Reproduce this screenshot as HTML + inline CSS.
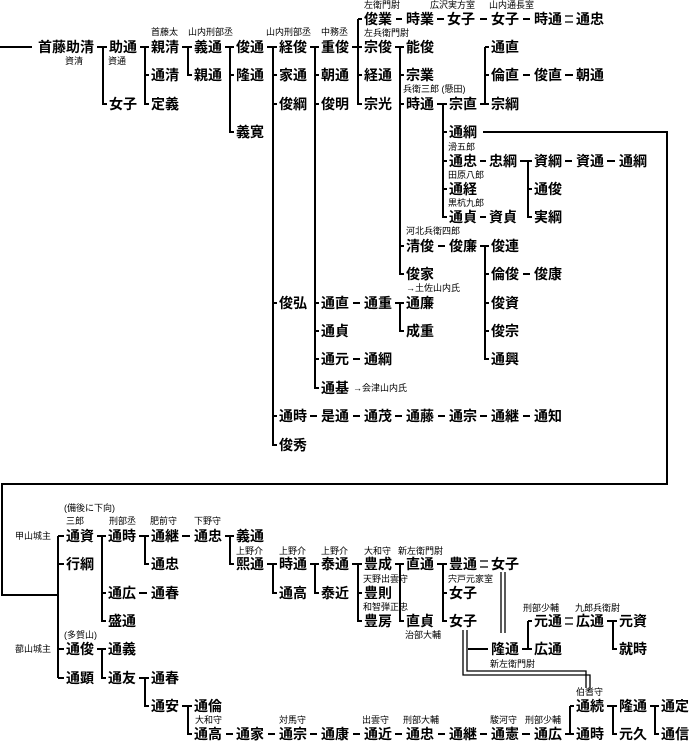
<!DOCTYPE html>
<html><head><meta charset="utf-8"><style>
html,body{margin:0;padding:0;background:#fff;}
svg{display:block;}
text{font-family:"Liberation Sans","Noto Sans CJK JP",sans-serif;fill:#000;}
.n{font-size:14px;dominant-baseline:central;font-weight:bold;}
.s{font-size:9px;dominant-baseline:central;}
</style></head><body>
<svg width="694" height="742" viewBox="0 0 694 742" xmlns="http://www.w3.org/2000/svg">
<g fill="none" stroke="#000" stroke-width="2">
<path d="M0 47H32 M97 47H107 M103 47V104H107"/>
<path d="M140 47H149 M145 47V104H149 M145 75H149"/>
<path d="M182 47H192 M188 47V75H192"/>
<path d="M225 47H234 M230 47V132H234 M230 75H234"/>
<path d="M267 47H277 M273 47V445H277 M273 75H277 M273 104H277 M273 303H277 M273 416H277"/>
<path d="M310 47H319 M315 47V388H319 M315 75H319 M315 104H319 M315 303H319 M315 331H319 M315 359H319"/>
<path d="M352 47H362 M358 19V104H362 M358 19H362 M358 75H362"/>
<path d="M395 47H404 M400 47V274H404 M400 75H404 M400 104H404 M400 246H404"/>
<path d="M437 104H447 M443 104V217H447 M443 132H447 M443 161H447 M443 189H447"/>
<path d="M480 104H489 M485 47V104 M485 47H489 M485 75H489"/>
<path d="M520 161H532 M528 161V217H532 M528 189H532"/>
<path d="M480 246H489 M485 246V359H489 M485 274H489 M485 303H489 M485 331H489"/>
<path d="M395 303H404 M400 303V331H404"/>
<path d="M396 19H402 M437 19H444 M480 19H487 M523 19H530"/>
<path d="M523 75H530 M565 75H573"/>
<path d="M483 132H667V484H2V595H58"/>
<path d="M480 161H486 M565 161H572 M607 161H615 M480 217H486 M438 246H445 M523 274H530 M353 303H360 M353 359H360"/>
<path d="M310 416H317 M353 416H360 M395 416H402 M438 416H445 M480 416H487 M523 416H530"/>
<path d="M58 536V678 M58 536H64 M58 564H64 M58 649H64 M58 678H64"/>
<path d="M97 536H106 M102 536V621H106 M102 593H106"/>
<path d="M139 536H149 M145 536V564H149 M182 536H190"/>
<path d="M225 536H234 M230 536V564H234"/>
<path d="M267 564H277 M273 564V593H277"/>
<path d="M310 564H319 M315 564V593H319"/>
<path d="M352 564H362 M358 564V621H362 M358 593H362"/>
<path d="M395 564H404 M400 564V621H404"/>
<path d="M437 564H447 M443 564V621H447 M443 593H447"/>
<path d="M468 649H488 M522 649H532 M528 621V649 M528 621H532 M607 621H617 M613 621V649H617"/>
<path d="M97 649H106 M102 649V678H106 M139 593H147 M139 678H149 M145 678V706H149 M182 706H192 M188 706V734H192"/>
<path d="M226 734H233 M268 734H275 M310 734H317 M353 734H360 M395 734H402 M438 734H445 M480 734H487 M522 734H530"/>
<path d="M565 734H574 M570 706V734 M570 706H574 M607 706H617 M613 706V734H617 M650 706H659 M655 706V734H659"/>
</g>
<g fill="none" stroke="#000" stroke-width="1.3">
<path d="M565 16H573 M565 22H573 M480 561H488 M480 567H488 M565 618H573 M565 624H573"/>
<path d="M501 572V633 M505 572V633"/>
<path d="M463 630V675H590V688 M467 630V671H586V688"/>
</g>
<g class="n">
<text x="38" y="47">首藤助清</text>
<text x="109" y="47">助通</text><text x="109" y="104">女子</text>
<text x="151" y="47">親清</text><text x="151" y="75">通清</text><text x="151" y="104">定義</text>
<text x="194" y="47">義通</text><text x="194" y="75">親通</text>
<text x="236" y="47">俊通</text><text x="236" y="75">隆通</text><text x="236" y="132">義寛</text>
<text x="279" y="47">経俊</text><text x="279" y="75">家通</text><text x="279" y="104">俊綱</text><text x="279" y="303">俊弘</text><text x="279" y="416">通時</text><text x="279" y="445">俊秀</text>
<text x="321" y="47">重俊</text><text x="321" y="75">朝通</text><text x="321" y="104">俊明</text><text x="321" y="303">通直</text><text x="321" y="331">通貞</text><text x="321" y="359">通元</text><text x="321" y="388">通基</text>
<text x="364" y="19">俊業</text><text x="364" y="47">宗俊</text><text x="364" y="75">経通</text><text x="364" y="104">宗光</text>
<text x="406" y="19">時業</text><text x="447" y="19">女子</text><text x="491" y="19">女子</text><text x="534" y="19">時通</text><text x="576" y="19">通忠</text>
<text x="406" y="47">能俊</text><text x="406" y="75">宗業</text><text x="406" y="104">時通</text><text x="406" y="246">清俊</text><text x="406" y="274">俊家</text>
<text x="449" y="104">宗直</text><text x="449" y="132">通綱</text><text x="449" y="161">通忠</text><text x="449" y="189">通経</text><text x="449" y="217">通貞</text>
<text x="491" y="47">通直</text><text x="491" y="75">倫直</text><text x="491" y="104">宗綱</text>
<text x="534" y="75">俊直</text><text x="576" y="75">朝通</text>
<text x="489" y="161">忠綱</text><text x="534" y="161">資綱</text><text x="576" y="161">資通</text><text x="619" y="161">通綱</text>
<text x="534" y="189">通俊</text><text x="534" y="217">実綱</text><text x="489" y="217">資貞</text>
<text x="449" y="246">俊廉</text><text x="491" y="246">俊連</text><text x="491" y="274">倫俊</text><text x="534" y="274">俊康</text><text x="491" y="303">俊資</text><text x="491" y="331">俊宗</text><text x="491" y="359">通興</text>
<text x="364" y="303">通重</text><text x="406" y="303">通廉</text><text x="406" y="331">成重</text>
<text x="364" y="359">通綱</text>
<text x="321" y="416">是通</text><text x="364" y="416">通茂</text><text x="406" y="416">通藤</text><text x="449" y="416">通宗</text><text x="491" y="416">通継</text><text x="534" y="416">通知</text>
<text x="66" y="536">通資</text><text x="66" y="564">行綱</text><text x="66" y="649">通俊</text><text x="66" y="678">通顕</text>
<text x="108" y="536">通時</text><text x="108" y="593">通広</text><text x="108" y="621">盛通</text><text x="108" y="649">通義</text><text x="108" y="678">通友</text>
<text x="151" y="536">通継</text><text x="151" y="564">通忠</text><text x="151" y="593">通春</text><text x="151" y="678">通春</text><text x="151" y="706">通安</text>
<text x="194" y="536">通忠</text><text x="194" y="706">通倫</text><text x="194" y="734">通高</text>
<text x="236" y="536">義通</text><text x="236" y="564">熙通</text><text x="236" y="734">通家</text>
<text x="279" y="564">時通</text><text x="279" y="593">通高</text><text x="279" y="734">通宗</text>
<text x="321" y="564">泰通</text><text x="321" y="593">泰近</text><text x="321" y="734">通康</text>
<text x="364" y="564">豊成</text><text x="364" y="593">豊則</text><text x="364" y="621">豊房</text><text x="364" y="734">通近</text>
<text x="406" y="564">直通</text><text x="406" y="621">直貞</text><text x="406" y="734">通忠</text>
<text x="449" y="564">豊通</text><text x="449" y="593">女子</text><text x="449" y="621">女子</text><text x="449" y="734">通継</text>
<text x="491" y="564">女子</text><text x="491" y="649">隆通</text><text x="491" y="734">通憲</text>
<text x="534" y="621">元通</text><text x="534" y="649">広通</text><text x="534" y="734">通広</text>
<text x="576" y="621">広通</text><text x="576" y="706">通続</text><text x="576" y="734">通時</text>
<text x="619" y="621">元資</text><text x="619" y="649">就時</text><text x="619" y="706">隆通</text><text x="619" y="734">元久</text>
<text x="661" y="706">通定</text><text x="661" y="734">通信</text>
</g>
<g class="s">
<text x="65" y="61">資清</text><text x="108" y="61">資通</text>
<text x="151" y="32">首藤太</text><text x="188" y="32">山内刑部丞</text><text x="266" y="32">山内刑部丞</text><text x="321" y="32">中務丞</text>
<text x="364" y="5">左衛門尉</text><text x="430" y="5">広沢実方室</text><text x="489" y="5">山内通長室</text>
<text x="364" y="33">左兵衛門尉</text><text x="403" y="89">兵衛三郎 (懸田)</text>
<text x="448" y="147">滑五郎</text><text x="448" y="175">田原八郎</text><text x="448" y="203">黒杭九郎</text>
<text x="406" y="231">河北兵衛四郎</text><text x="406" y="288">→土佐山内氏</text><text x="353" y="388">→会津山内氏</text>
<text x="15" y="536">甲山城主</text><text x="15" y="649">蔀山城主</text>
<text x="64" y="508">(備後に下向)</text><text x="66" y="521">三郎</text><text x="64" y="635">(多賀山)</text>
<text x="109" y="521">刑部丞</text><text x="150" y="521">肥前守</text><text x="194" y="521">下野守</text>
<text x="236" y="551">上野介</text><text x="279" y="551">上野介</text><text x="321" y="551">上野介</text>
<text x="364" y="551">大和守</text><text x="398" y="551">新左衛門尉</text>
<text x="363" y="579">天野出雲守</text><text x="363" y="607">和智弾正忠</text><text x="405" y="635">治部大輔</text>
<text x="448" y="579">宍戸元家室</text>
<text x="523" y="608">刑部少輔</text><text x="575" y="608">九郎兵衛尉</text><text x="490" y="664">新左衛門尉</text>
<text x="576" y="692">伯耆守</text>
<text x="195" y="720">大和守</text><text x="279" y="720">対馬守</text><text x="362" y="720">出雲守</text><text x="403" y="720">刑部大輔</text><text x="490" y="720">駿河守</text><text x="525" y="720">刑部少輔</text>
</g>
</svg>
</body></html>
